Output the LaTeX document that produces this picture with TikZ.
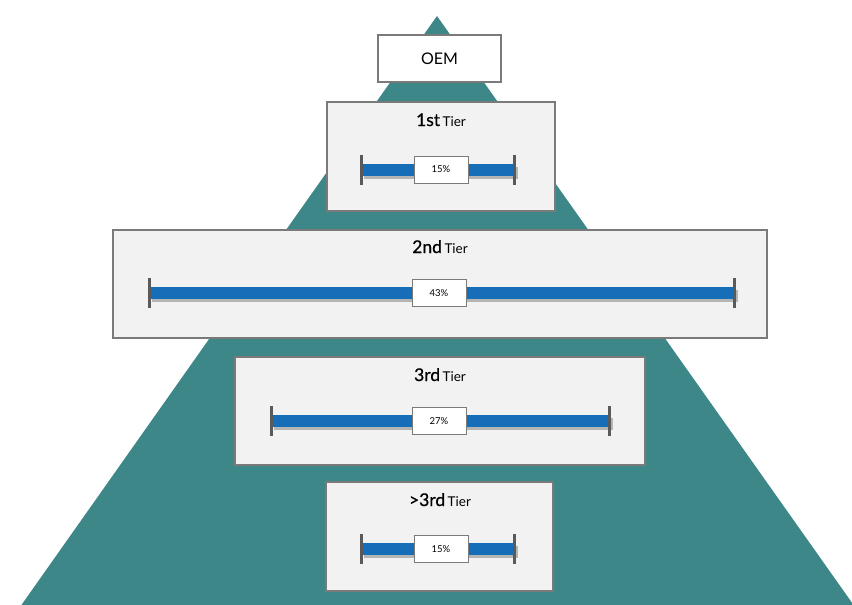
\documentclass[tikz,border=0pt]{standalone}
\usepackage{fontspec}
\setmainfont{Lato}
\newfontfamily\semib[FakeBold=0.6]{Lato}
\definecolor{teal1}{HTML}{3E8789}
\definecolor{barblue}{HTML}{166EB9}
\definecolor{boxfill}{HTML}{F2F2F2}
\definecolor{boxline}{HTML}{7A7A7A}
\definecolor{capgray}{HTML}{5A5A5A}
\tikzset{
  tierbox/.style={draw=boxline, line width=1.2pt, fill=boxfill, inner sep=0pt},
  oembox/.style={draw=boxline, line width=1.2pt, fill=white, inner sep=0pt, font=\fontsize{16}{16}\selectfont},
  pctbox/.style={draw=boxline, line width=0.8pt, fill=white, inner sep=0pt, minimum width=54pt, minimum height=27pt, font=\fontsize{9.5}{9.5}\selectfont},
  barline/.style={draw=barblue, line width=12pt},
  barshadow/.style={draw=black, opacity=0.25, line width=12pt},
  capline/.style={draw=capgray, line width=3pt},
  titletext/.style={inner sep=0pt, anchor=base}
}
\newcommand{\tiertitle}[1]{{\semib\fontsize{17.5}{17.5}\selectfont #1} {\fontsize{13.5}{13.5}\selectfont Tier}}
\begin{document}
\begin{tikzpicture}[x=1pt,y=-1pt]
\useasboundingbox (0,0) rectangle (852,605);
% pyramid
\fill[teal1] (437,16) -- (855,607) -- (20,607) -- cycle;
% OEM
\node[oembox, minimum width=123pt, minimum height=47pt] (oem) at (439.5,58.5) {OEM};
% boxes
\node[tierbox, minimum width=228pt, minimum height=109pt] (t1) at (441,156.5) {};
\node[tierbox, minimum width=654pt, minimum height=108pt] (t2) at (440,284) {};
\node[tierbox, minimum width=410pt, minimum height=108pt] (t3) at (440,411) {};
\node[tierbox, minimum width=227pt, minimum height=109pt] (t4) at (439.5,536.5) {};
% titles
\node[titletext] (h1) at (441,126) {\tiertitle{1st}};
\node[titletext] (h2) at (440,253) {\tiertitle{2nd}};
\node[titletext] (h3) at (440,381) {\tiertitle{3rd}};
\node[titletext] (h4) at (440,506) {\tiertitle{>3rd}};
% bars
\coordinate (b1l) at (361,169.5); \coordinate (b1r) at (514,169.5);
\coordinate (b2l) at (149,293);   \coordinate (b2r) at (734,293);
\coordinate (b3l) at (271,421);   \coordinate (b3r) at (609,421);
\coordinate (b4l) at (361,549);   \coordinate (b4r) at (514,549);
\foreach \i in {1,2,3,4}{
  \path[barshadow] ([shift={(3pt,-3pt)}]b\i l) -- ([shift={(4pt,-3pt)}]b\i r);
  \path[barline] (b\i l) -- (b\i r);
  \draw[capline] ([yshift=-15pt]b\i l) -- ([yshift=15pt]b\i l);
  \draw[capline] ([yshift=-15pt]b\i r) -- ([yshift=15pt]b\i r);
}
\node[pctbox] (p1) at (441,169.5) {15\%};
\node[pctbox] (p2) at (439,293) {43\%};
\node[pctbox] (p3) at (439,421) {27\%};
\node[pctbox] (p4) at (441,549) {15\%};
\end{tikzpicture}
\end{document}
